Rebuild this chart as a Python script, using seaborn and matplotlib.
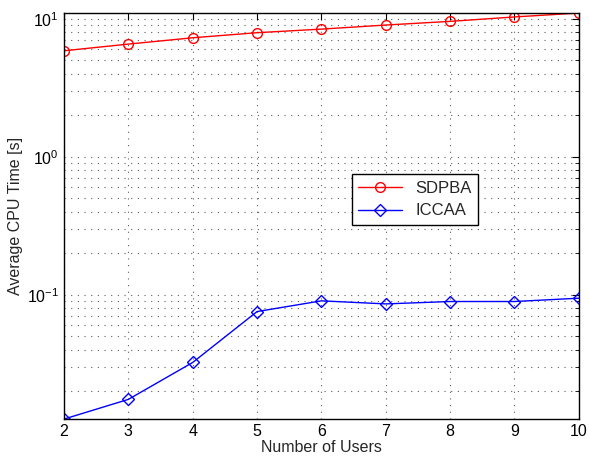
import matplotlib
matplotlib.use("Agg")
import matplotlib.pyplot as plt
import seaborn as sns
import pandas as pd
from matplotlib.ticker import LogLocator, NullFormatter

users = [2, 3, 4, 5, 6, 7, 8, 9, 10]
sdpba = [5.86, 6.55, 7.28, 7.92, 8.41, 9.0, 9.57, 10.3, 11.0]
iccaa = [0.0126, 0.0175, 0.0324, 0.0757, 0.0905, 0.086, 0.0895, 0.0895, 0.0946]
series_names = ["SDPBA", "ICCAA"]

sns.set_style("white")
plt.rcParams['font.family'] = ['Liberation Sans', 'DejaVu Sans']

fig = plt.figure(figsize=(5.89, 4.58), dpi=100)
ax = fig.add_axes([0.1087, 0.085, 0.874, 0.8866])

df = pd.DataFrame({"users": users * 2,
                   "time": sdpba + iccaa,
                   "method": [series_names[0]] * len(users) + [series_names[1]] * len(users)})

sns.lineplot(data=df[df.method == "SDPBA"], x="users", y="time", ax=ax, color="red",
             marker="o", markersize=7, markerfacecolor="none", markeredgecolor="red",
             markeredgewidth=1.0, linewidth=1.0, label="SDPBA")
sns.lineplot(data=df[df.method == "ICCAA"], x="users", y="time", ax=ax, color="blue",
             marker="D", markersize=6, markerfacecolor="none", markeredgecolor="blue",
             markeredgewidth=1.0, linewidth=1.0, label="ICCAA")

ax.set_yscale("log")
ax.set_xlim(2, 10)
ax.set_ylim(min(iccaa), max(sdpba))
ax.set_xticks(users)
ax.yaxis.set_major_locator(LogLocator(base=10))
ax.yaxis.set_minor_locator(LogLocator(base=10, subs=range(2, 10)))
ax.yaxis.set_minor_formatter(NullFormatter())

ax.grid(True, which="major", linestyle=(0, (1, 5)), color="#333333", linewidth=0.8, alpha=0.8)
ax.grid(True, which="minor", axis="y", linestyle=(0, (1, 5)), color="#333333", linewidth=0.8, alpha=0.8)

ax.tick_params(which="both", direction="in", top=True, right=True, labelsize=11.5, colors="black")
ax.tick_params(which="major", length=5)
ax.tick_params(which="minor", length=3)
for s in ax.spines.values():
    s.set_color("black")
    s.set_linewidth(1.0)

ax.set_xlabel("Number of Users", fontsize=11.5, labelpad=1)
ax.set_ylabel("Average CPU Time [s]", fontsize=11.5, labelpad=3)

leg = ax.legend(loc="upper left", bbox_to_anchor=(0.559, 0.603), fontsize=12,
                frameon=True, fancybox=False, edgecolor="black", framealpha=1,
                borderpad=0.4, borderaxespad=0, handlelength=2.6, labelspacing=0.45)
leg.get_frame().set_linewidth(1.0)

fig.savefig("out.png", dpi=100)
